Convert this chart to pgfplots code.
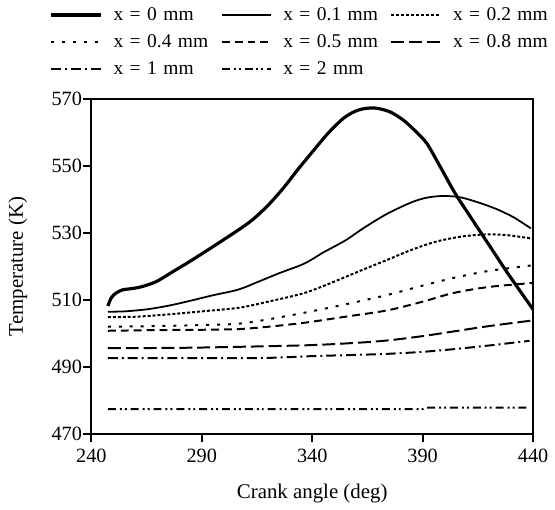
\documentclass[border=0pt]{standalone}
\usepackage{fontspec}
\setmainfont{Liberation Serif}
\usepackage{pgfplots}
\pgfplotsset{compat=1.18}
\begin{document}
\fontsize{10.2}{12}\selectfont
\begin{tikzpicture}
\begin{axis}[
  name=ax,
  scale only axis, width=222.5pt, height=168.5pt,
  xmin=240, xmax=440, ymin=470, ymax=570,
  xtick={240,290,340,390,440}, ytick={470,490,510,530,550,570},
  tick align=outside, tick pos=left, major tick length=4pt,
  axis line style={line width=1.1pt},
  every tick/.style={black, line width=1.1pt},
  /pgf/number format/assume math mode=true,
  yticklabel style={inner xsep=0.5pt},
  xlabel={Crank angle (deg)}, ylabel={Temperature (K)},
  every axis x label/.style={at={(rel axis cs:0.5,0)}, anchor=center, yshift=-30pt, font=\fontsize{10.5}{12}\selectfont},
  every axis y label/.style={at={(rel axis cs:0,0.5)}, anchor=center, xshift=-37pt, rotate=90, font=\fontsize{10.5}{12}\selectfont},
  legend columns=3,
  legend cell align=left,
  legend style={draw=none, fill=none, at={(rel axis cs:-0.094,1.28)}, anchor=north west,
    inner sep=0pt, outer sep=0pt, row sep=4pt,
    font=\fontsize{9.8}{11}\selectfont,
    /tikz/every odd column/.append style={column sep=5.5pt},
    /tikz/every even column/.append style={column sep=3pt},
    nodes={inner sep=0pt, text height=7.5pt, text depth=2pt, text width=51pt}},
  legend image code/.code={\draw[#1] (0pt,0pt) -- (25pt,0pt);},
]
% x = 0 mm
\addplot[black, line width=1.6pt, smooth] coordinates {
(247.5,508.2) (249,510.6) (251,512.0) (254,513.0) (257,513.3) (261,513.7) (265,514.4)
(270,515.7) (277,518.5) (285,521.7) (294.5,525.7) (306.5,530.9) (313,534) (320,538.3)
(327,543.5) (333.5,549) (340,554.2) (347,559.7) (354.5,564.5) (361,566.8) (368,567.4)
(375,566.3) (381.4,563.7) (387,560.3) (392,556.7) (398,549.8) (404.6,542) (411,535.5)
(417.5,529) (423,523.5) (428,518.5) (434,512.8) (440,507.2)};
\addlegendentry{x = 0 mm}
% x = 0.1 mm
\addplot[black, line width=0.9pt, smooth] coordinates {
(247.5,506.5) (255,506.6) (265,507.2) (275,508.3) (285,509.8) (295,511.4) (306.5,513.1)
(315,515.3) (325,518) (336.5,520.9) (345,524.2) (355,527.8) (363.5,531.6) (374,535.8)
(385,539.2) (392,540.6) (399.4,541.1) (407,540.7) (415,539.2) (423,537.3) (431,534.8)
(439,531.4)};
\addlegendentry{x = 0.1 mm}
% x = 0.2 mm
\addplot[black, line width=1pt, dash pattern=on 1.5pt off 1pt, smooth] coordinates {
(247.5,504.9) (260,505.0) (275,505.7) (290,506.6) (307,507.7) (320,509.5) (336.5,512.1)
(350,515.5) (362,518.8) (374,522) (385,525) (396.4,527.5) (408,529.0) (418.9,529.6)
(428,529.4) (437,528.6) (440,528.3)};
\addlegendentry{x = 0.2 mm}
% x = 0.4 mm
\addplot[black, line width=1pt, dash pattern=on 1.5pt off 4pt, smooth] coordinates {
(247.5,502) (270,502.2) (290,502.5) (306.5,502.9) (320,504.2) (336.5,506.2) (355,508.7)
(374,511.5) (390,514.3) (404,516.6) (420,518.7) (440,520.4)};
\addlegendentry{x = 0.4 mm}
% x = 0.5 mm
\addplot[black, line width=1pt, dash pattern=on 4pt off 2.5pt, smooth] coordinates {
(247.5,500.8) (270,501) (290,501.1) (306.5,501.3) (320,502) (336.5,503.2) (355,505)
(374,506.9) (390,509.5) (404,512.1) (420,513.9) (440,515.1)};
\addlegendentry{x = 0.5 mm}
% x = 0.8 mm
\addplot[black, line width=1pt, dash pattern=on 6.5pt off 2.5pt, smooth] coordinates {
(247.5,495.6) (280,495.7) (306.5,496) (339,496.5) (360,497.2) (374,497.9) (390,499.2)
(404,500.6) (420,502.2) (440,503.9)};
\addlegendentry{x = 0.8 mm}
% x = 1 mm
\addplot[black, line width=1pt, dash pattern=on 5pt off 2pt on 1pt off 2pt, smooth] coordinates {
(247.5,492.6) (290,492.6) (320,492.7) (339,493.2) (360,493.6) (374,493.9) (390,494.5)
(404,495.3) (420,496.4) (438.4,497.8)};
\addlegendentry{x = 1 mm}
% x = 2 mm
\addplot[black, line width=1pt, dash pattern=on 4pt off 2pt on 1pt off 1.5pt on 1pt off 2pt] coordinates {
(247.5,477.4) (390,477.4) (391,477.8) (437,477.8)};
\addlegendentry{x = 2 mm}
\end{axis}
\path[use as bounding box] ([shift={(-46pt,-35.5pt)}]ax.south west) rectangle ([shift={(9pt,50pt)}]ax.north east);
\end{tikzpicture}
\end{document}
